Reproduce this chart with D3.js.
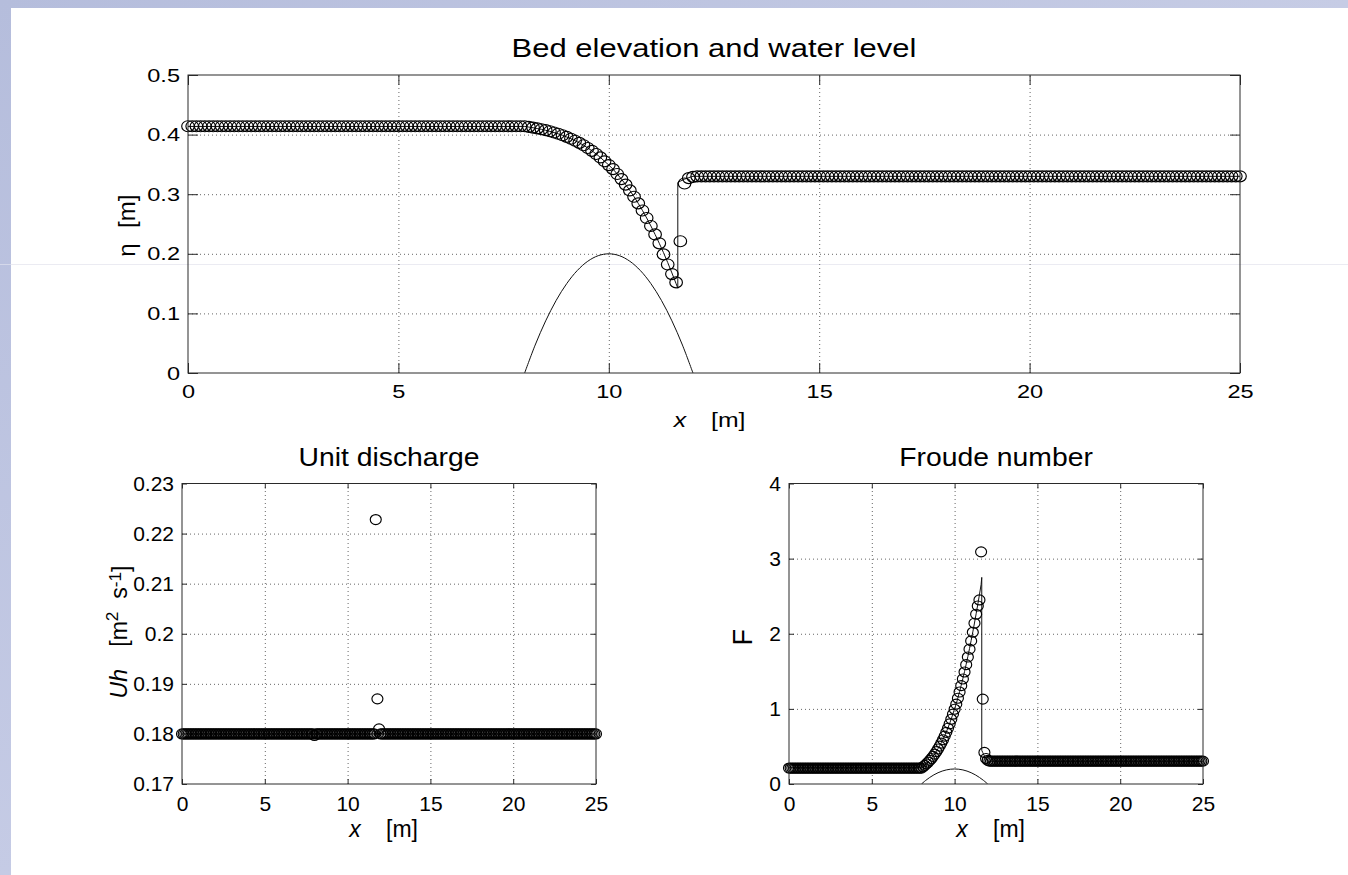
<!DOCTYPE html>
<html>
<head>
<meta charset="utf-8">
<script src="https://cdn.jsdelivr.net/npm/d3@7"></script>
<style>
  html, body { margin: 0; padding: 0; background: #fff; }
  svg { display: block; }
  text { font-family: "Liberation Sans", Arial, Helvetica, sans-serif; fill: #000; }
</style>
</head>
<body>
<svg id="fig" width="1348" height="875"></svg>
<script>
// ---- data ---------------------------------------------------------------
// computational grid, x in metres (dx = 0.1 m, 0 ... 25)
const xGrid = d3.range(0, 251).map(i => i / 10);

// free-surface elevation eta [m] at every grid node (numerical solution)
const etaNum = [
  0.414,0.414,0.414,0.414,0.414,0.414,0.414,0.414,0.414,0.414, // 0.0-0.9
  0.414,0.414,0.414,0.414,0.414,0.414,0.414,0.414,0.414,0.414, // 1
  0.414,0.414,0.414,0.414,0.414,0.414,0.414,0.414,0.414,0.414, // 2
  0.414,0.414,0.414,0.414,0.414,0.414,0.414,0.414,0.414,0.414, // 3
  0.414,0.414,0.414,0.414,0.414,0.414,0.414,0.414,0.414,0.414, // 4
  0.414,0.414,0.414,0.414,0.414,0.414,0.414,0.414,0.414,0.414, // 5
  0.414,0.414,0.414,0.414,0.414,0.414,0.414,0.414,0.414,0.414, // 6
  0.414,0.414,0.414,0.414,0.414,0.414,0.414,0.414,0.414,0.414, // 7
  0.414,0.413,0.4118,0.4105,0.409,0.4074,0.4056,0.4036,0.4014,0.3989, // 8
  0.3962,0.3931,0.3897,0.3861,0.3821,0.3776,0.3728,0.3675,0.3617,0.3552, // 9
  0.3489,0.3420,0.3339,0.3253,0.3161,0.3063,0.2958,0.2846,0.2727,0.2601, // 10
  0.2467,0.2325,0.2176,0.199,0.182,0.166,0.152,0.221,0.318,0.327, // 11
  0.329,0.33,0.33,0.33,0.33,0.33,0.33,0.33,0.33,0.33, // 12
  0.33,0.33,0.33,0.33,0.33,0.33,0.33,0.33,0.33,0.33, // 13
  0.33,0.33,0.33,0.33,0.33,0.33,0.33,0.33,0.33,0.33, // 14
  0.33,0.33,0.33,0.33,0.33,0.33,0.33,0.33,0.33,0.33, // 15
  0.33,0.33,0.33,0.33,0.33,0.33,0.33,0.33,0.33,0.33, // 16
  0.33,0.33,0.33,0.33,0.33,0.33,0.33,0.33,0.33,0.33, // 17
  0.33,0.33,0.33,0.33,0.33,0.33,0.33,0.33,0.33,0.33, // 18
  0.33,0.33,0.33,0.33,0.33,0.33,0.33,0.33,0.33,0.33, // 19
  0.33,0.33,0.33,0.33,0.33,0.33,0.33,0.33,0.33,0.33, // 20
  0.33,0.33,0.33,0.33,0.33,0.33,0.33,0.33,0.33,0.33, // 21
  0.33,0.33,0.33,0.33,0.33,0.33,0.33,0.33,0.33,0.33, // 22
  0.33,0.33,0.33,0.33,0.33,0.33,0.33,0.33,0.33,0.33, // 23
  0.33,0.33,0.33,0.33,0.33,0.33,0.33,0.33,0.33,0.33, // 24
  0.33                                                  // 25.0
];

// unit discharge Uh [m^2/s] at every grid node
const qNum = [
  0.18,0.18,0.18,0.18,0.18,0.18,0.18,0.18,0.18,0.18, // 0
  0.18,0.18,0.18,0.18,0.18,0.18,0.18,0.18,0.18,0.18, // 1
  0.18,0.18,0.18,0.18,0.18,0.18,0.18,0.18,0.18,0.18, // 2
  0.18,0.18,0.18,0.18,0.18,0.18,0.18,0.18,0.18,0.18, // 3
  0.18,0.18,0.18,0.18,0.18,0.18,0.18,0.18,0.18,0.18, // 4
  0.18,0.18,0.18,0.18,0.18,0.18,0.18,0.18,0.18,0.18, // 5
  0.18,0.18,0.18,0.18,0.18,0.18,0.18,0.18,0.18,0.18, // 6
  0.18,0.18,0.18,0.18,0.18,0.18,0.18,0.18,0.18,0.18, // 7
  0.1797,0.18,0.18,0.18,0.18,0.18,0.18,0.18,0.18,0.18, // 8
  0.18,0.18,0.18,0.18,0.18,0.18,0.18,0.18,0.18,0.18, // 9
  0.18,0.18,0.18,0.18,0.18,0.18,0.18,0.18,0.18,0.18, // 10
  0.18,0.18,0.18,0.18,0.18,0.18,0.18,0.2228,0.187,0.181, // 11
  0.18,0.18,0.18,0.18,0.18,0.18,0.18,0.18,0.18,0.18, // 12
  0.18,0.18,0.18,0.18,0.18,0.18,0.18,0.18,0.18,0.18, // 13
  0.18,0.18,0.18,0.18,0.18,0.18,0.18,0.18,0.18,0.18, // 14
  0.18,0.18,0.18,0.18,0.18,0.18,0.18,0.18,0.18,0.18, // 15
  0.18,0.18,0.18,0.18,0.18,0.18,0.18,0.18,0.18,0.18, // 16
  0.18,0.18,0.18,0.18,0.18,0.18,0.18,0.18,0.18,0.18, // 17
  0.18,0.18,0.18,0.18,0.18,0.18,0.18,0.18,0.18,0.18, // 18
  0.18,0.18,0.18,0.18,0.18,0.18,0.18,0.18,0.18,0.18, // 19
  0.18,0.18,0.18,0.18,0.18,0.18,0.18,0.18,0.18,0.18, // 20
  0.18,0.18,0.18,0.18,0.18,0.18,0.18,0.18,0.18,0.18, // 21
  0.18,0.18,0.18,0.18,0.18,0.18,0.18,0.18,0.18,0.18, // 22
  0.18,0.18,0.18,0.18,0.18,0.18,0.18,0.18,0.18,0.18, // 23
  0.18,0.18,0.18,0.18,0.18,0.18,0.18,0.18,0.18,0.18, // 24
  0.18                                                // 25.0
];

// Froude number F at every grid node
const froudeNum = [
  0.212,0.212,0.212,0.212,0.212,0.212,0.212,0.212,0.212,0.212, // 0
  0.212,0.212,0.212,0.212,0.212,0.212,0.212,0.212,0.212,0.212, // 1
  0.212,0.212,0.212,0.212,0.212,0.212,0.212,0.212,0.212,0.212, // 2
  0.212,0.212,0.212,0.212,0.212,0.212,0.212,0.212,0.212,0.212, // 3
  0.212,0.212,0.212,0.212,0.212,0.212,0.212,0.212,0.212,0.212, // 4
  0.212,0.212,0.212,0.212,0.212,0.212,0.212,0.212,0.212,0.212, // 5
  0.212,0.212,0.212,0.212,0.212,0.212,0.212,0.212,0.212,0.212, // 6
  0.212,0.212,0.212,0.212,0.212,0.212,0.212,0.212,0.212,0.212, // 7
  0.212,0.229,0.248,0.268,0.29,0.314,0.34,0.368,0.398,0.431,  // 8
  0.466,0.504,0.545,0.589,0.637,0.688,0.742,0.8,0.862,0.93,   // 9
  0.995,1.063,1.142,1.224,1.309,1.398,1.491,1.589,1.69,1.795, // 10
  1.905,2.02,2.14,2.26,2.37,2.45,3.09,1.13,0.42,0.34,        // 11
  0.315,0.305,0.305,0.305,0.305,0.305,0.305,0.305,0.305,0.305, // 12
  0.305,0.305,0.305,0.305,0.305,0.305,0.305,0.305,0.305,0.305, // 13
  0.305,0.305,0.305,0.305,0.305,0.305,0.305,0.305,0.305,0.305, // 14
  0.305,0.305,0.305,0.305,0.305,0.305,0.305,0.305,0.305,0.305, // 15
  0.305,0.305,0.305,0.305,0.305,0.305,0.305,0.305,0.305,0.305, // 16
  0.305,0.305,0.305,0.305,0.305,0.305,0.305,0.305,0.305,0.305, // 17
  0.305,0.305,0.305,0.305,0.305,0.305,0.305,0.305,0.305,0.305, // 18
  0.305,0.305,0.305,0.305,0.305,0.305,0.305,0.305,0.305,0.305, // 19
  0.305,0.305,0.305,0.305,0.305,0.305,0.305,0.305,0.305,0.305, // 20
  0.305,0.305,0.305,0.305,0.305,0.305,0.305,0.305,0.305,0.305, // 21
  0.305,0.305,0.305,0.305,0.305,0.305,0.305,0.305,0.305,0.305, // 22
  0.305,0.305,0.305,0.305,0.305,0.305,0.305,0.305,0.305,0.305, // 23
  0.305,0.305,0.305,0.305,0.305,0.305,0.305,0.305,0.305,0.305, // 24
  0.305                                                          // 25.0
];

// analytical solution (solid line): x, surface elevation, Froude number
const exactX = [0, 8, 8.1, 8.2, 8.3, 8.4, 8.5, 8.6, 8.7, 8.8, 8.9,
  9, 9.1, 9.2, 9.3, 9.4, 9.5, 9.6, 9.7, 9.8, 9.9,
  10, 10.1, 10.2, 10.3, 10.4, 10.5, 10.6, 10.7, 10.8, 10.9,
  11, 11.1, 11.2, 11.3, 11.4, 11.5, 11.6, 11.64, 11.64, 11.7, 11.8, 11.9, 12, 25];
const exactEta = [0.4137, 0.4137, 0.4126, 0.4115, 0.4102, 0.4088, 0.4072, 0.4054, 0.4034, 0.4012, 0.3988,
  0.3960, 0.3931, 0.3897, 0.3861, 0.3821, 0.3776, 0.3728, 0.3675, 0.3617, 0.3552,
  0.3489, 0.3420, 0.3339, 0.3253, 0.3161, 0.3063, 0.2958, 0.2846, 0.2727, 0.2601,
  0.2467, 0.2325, 0.2176, 0.2019, 0.1853, 0.1679, 0.1497, 0.1422, 0.3196, 0.3219, 0.3252, 0.3278, 0.33, 0.33];
const exactF = [0.216, 0.216, 0.2331, 0.2518, 0.2720, 0.2941, 0.3180, 0.3439, 0.3720, 0.4024, 0.4354,
  0.4709, 0.5090, 0.5504, 0.5946, 0.6423, 0.6932, 0.7475, 0.8055, 0.8677, 0.9354,
  1.0004, 1.0682, 1.1473, 1.2293, 1.3145, 1.4037, 1.4970, 1.5946, 1.6962, 1.8016,
  1.9112, 2.0250, 2.1428, 2.2653, 2.3906, 2.5206, 2.6545, 2.75, 0.449, 0.418, 0.3735, 0.3357, 0.3032, 0.3032];
const exactQX = [0, 25];
const exactQ = [0.18, 0.18];

// bed elevation z_b [m]: bump between x = 8 and 12 m (zero elsewhere)
const bedX = [8, 8.25, 8.5, 8.75, 9, 9.25, 9.5, 9.75, 10, 10.25, 10.5, 10.75, 11, 11.25, 11.5, 11.75, 12];
const bedZ = [0, 0.0469, 0.0875, 0.1219, 0.15, 0.1719, 0.1875, 0.1969, 0.2, 0.1969, 0.1875, 0.1719, 0.15, 0.1219, 0.0875, 0.0469, 0];

// axis ticks
const xTicks = [0, 5, 10, 15, 20, 25];
const etaTicks = [0, 0.1, 0.2, 0.3, 0.4, 0.5];
const qTicks = [0.17, 0.18, 0.19, 0.2, 0.21, 0.22, 0.23];
const fTicks = [0, 1, 2, 3, 4];

// ---- drawing ------------------------------------------------------------
const svg = d3.select('#fig');
const W = 1348, H = 875;
const FONT = '"Liberation Sans", Arial, Helvetica, sans-serif';
const defs = svg.append('defs');
const gTop = defs.append('linearGradient').attr('id', 'bandTop').attr('x1', 0).attr('x2', 1).attr('y1', 0).attr('y2', 0);
gTop.append('stop').attr('offset', 0).attr('stop-color', '#b5bddc');
gTop.append('stop').attr('offset', 1).attr('stop-color', '#c6cce5');
const gLeft = defs.append('linearGradient').attr('id', 'bandLeft').attr('x1', 0).attr('x2', 0).attr('y1', 0).attr('y2', 1);
gLeft.append('stop').attr('offset', 0).attr('stop-color', '#b5bddc');
gLeft.append('stop').attr('offset', 1).attr('stop-color', '#c5cbe5');

svg.append('rect').attr('width', W).attr('height', H).attr('fill', '#fff');
svg.append('rect').attr('x', 0).attr('y', 0).attr('width', W).attr('height', 8).attr('fill', 'url(#bandTop)');
svg.append('rect').attr('x', 0).attr('y', 0).attr('width', 11).attr('height', H).attr('fill', 'url(#bandLeft)');
svg.append('line').attr('x1', 11).attr('x2', W).attr('y1', 264.5).attr('y2', 264.5)
  .attr('stroke', '#ebebf2').attr('stroke-width', 1);
svg.append('line').attr('x1', 0).attr('x2', 11).attr('y1', 264.5).attr('y2', 264.5)
  .attr('stroke', '#d4d8ea').attr('stroke-width', 1);

function stretchText(sel, sx, padX) {
  sel.selectAll('text').each(function () {
    const t = d3.select(this);
    if (padX !== undefined) t.attr('x', padX / sx);
    t.attr('transform', `scale(${sx},1)`);
  });
}

function panel(o) {
  const x = d3.scaleLinear().domain([0, 25]).range([o.l, o.r]);
  const y = d3.scaleLinear().domain(o.yDomain).range([o.b, o.t]);
  const g = svg.append('g');
  const w = o.r - o.l, h = o.b - o.t;
  const cx = (o.l + o.r) / 2, cy = (o.t + o.b) / 2;

  // dotted grid
  const grid = g.append('g');
  grid.append('g').attr('transform', `translate(0,${o.b})`)
    .call(d3.axisBottom(x).tickValues(xTicks.slice(1, -1)).tickSize(-h).tickFormat(''));
  grid.append('g').attr('transform', `translate(${o.l},0)`)
    .call(d3.axisLeft(y).tickValues(o.yTicks.slice(1, -1)).tickSize(-w).tickFormat(''));
  grid.selectAll('.domain').remove();
  grid.selectAll('line').attr('stroke', '#666').attr('stroke-width', 1).attr('stroke-dasharray', '1,3');

  const cid = 'clip' + o.id;
  defs.append('clipPath').attr('id', cid).append('rect')
    .attr('x', o.l - 9).attr('y', o.t).attr('width', w + 18).attr('height', h);
  const data = g.append('g').attr('clip-path', `url(#${cid})`);

  (o.lines || []).forEach(L => {
    const pts = L.xs.map((xv, i) => [xv, L.ys[i]]);
    const lg = d3.line().x(d => x(d[0])).y(d => y(d[1]));
    if (L.curve) lg.curve(L.curve);
    data.append('path').attr('d', lg(pts)).attr('fill', 'none')
      .attr('stroke', '#111').attr('stroke-width', 1);
  });

  const pts = xGrid.map((xv, i) => [xv, o.values[i]]);
  data.append('g').selectAll('ellipse').data(pts).join('ellipse')
    .attr('cx', d => x(d[0])).attr('cy', d => y(d[1]))
    .attr('rx', o.rx).attr('ry', o.ry)
    .attr('fill', 'none').attr('stroke', '#000').attr('stroke-width', 1.15);

  // axes box
  g.append('rect').attr('x', o.l).attr('y', o.t).attr('width', w).attr('height', h)
    .attr('fill', 'none').attr('stroke', '#2a2a2a').attr('stroke-width', 1);

  // inward ticks on all four sides
  const tl = o.tickLen;
  const axB = g.append('g').attr('transform', `translate(0,${o.b})`)
    .call(d3.axisBottom(x).tickValues(xTicks).tickSize(-tl).tickPadding(o.xPad).tickFormat(d3.format('d')));
  const axL = g.append('g').attr('transform', `translate(${o.l},0)`)
    .call(d3.axisLeft(y).tickValues(o.yTicks).tickSize(-tl).tickPadding(8).tickFormat(o.yFmt));
  const axT = g.append('g').attr('transform', `translate(0,${o.t})`)
    .call(d3.axisTop(x).tickValues(xTicks).tickSize(-tl).tickFormat(''));
  const axR = g.append('g').attr('transform', `translate(${o.r},0)`)
    .call(d3.axisRight(y).tickValues(o.yTicks).tickSize(-tl).tickFormat(''));
  [axB, axL, axT, axR].forEach(a => {
    a.select('.domain').remove();
    a.selectAll('line').attr('stroke', '#2a2a2a');
    a.selectAll('text').attr('font-size', o.tickFont).attr('fill', '#000').attr('font-family', FONT);
  });
  stretchText(axB, o.sx);
  stretchText(axL, o.sx, -8);

  // title
  g.append('text').attr('text-anchor', 'middle').attr('font-size', o.titleFont)
    .attr('transform', `translate(${cx},${o.titleY}) scale(${o.titleSx},1)`)
    .text(o.title);

  // x label: italic x, then the unit
  const xb = o.b + o.xLabelDy;
  g.append('text').attr('text-anchor', 'middle').attr('font-size', o.labelFont)
    .attr('font-style', 'italic')
    .attr('transform', `translate(${cx - 34},${xb}) scale(${o.sx},1)`).text('x');
  g.append('text').attr('text-anchor', 'start').attr('font-size', o.labelFont)
    .attr('transform', `translate(${cx - 3},${xb}) scale(${o.sx},1)`).text('[m]');

  // y label (rotated)
  const yg = g.append('g').attr('transform', `translate(${o.yLabelX},${cy}) rotate(-90)`);
  o.yLabel(yg);
}

// top: bed elevation and water level
panel({
  id: 'eta', l: 188, r: 1240, t: 75, b: 373,
  yDomain: [0, 0.5], yTicks: etaTicks,
  yFmt: d => d === 0 ? '0' : d.toFixed(1),
  values: etaNum, rx: 6.3, ry: 5.5,
  lines: [
    { xs: bedX, ys: bedZ, curve: d3.curveCatmullRom },
    { xs: exactX, ys: exactEta }
  ],
  tickLen: 10, tickFont: 19, titleFont: 25, titleSx: 1.24, labelFont: 20, sx: 1.24, xPad: 11.5,
  title: 'Bed elevation and water level', titleY: 56.5, xLabelDy: 54,
  yLabelX: 135,
  yLabel: gl => {
    gl.append('text').attr('text-anchor', 'middle').attr('font-size', 24).attr('x', -26).text('η');
    gl.append('text').attr('text-anchor', 'start').attr('font-size', 24).attr('x', -4).text('[m]');
  }
});

// bottom left: unit discharge
panel({
  id: 'q', l: 182, r: 596, t: 483.5, b: 784,
  yDomain: [0.17, 0.23], yTicks: qTicks,
  yFmt: d => String(+d.toFixed(2)),
  values: qNum, rx: 5.5, ry: 5.0,
  lines: [{ xs: exactQX, ys: exactQ }],
  tickLen: 5, tickFont: 21, titleFont: 26, titleSx: 1.09, labelFont: 23, sx: 1.0, xPad: 12,
  title: 'Unit discharge', titleY: 466, xLabelDy: 53,
  yLabelX: 127,
  yLabel: gl => {
    gl.append('text').attr('text-anchor', 'middle').attr('font-size', 23)
      .attr('font-style', 'italic').attr('x', -50).text('Uh');
    const t = gl.append('text').attr('text-anchor', 'start').attr('font-size', 23)
      .attr('x', -13).attr('xml:space', 'preserve');
    t.append('tspan').text('[m');
    t.append('tspan').attr('font-size', '75%').attr('dy', '-0.5em').text('2');
    t.append('tspan').attr('dy', '0.375em').text('  s');
    t.append('tspan').attr('font-size', '75%').attr('dy', '-0.375em').text('-1');
    t.append('tspan').attr('dy', '0.375em').text(']');
  }
});

// bottom right: Froude number
panel({
  id: 'fr', l: 789, r: 1203, t: 483.5, b: 784,
  yDomain: [0, 4], yTicks: fTicks,
  yFmt: d3.format('d'),
  values: froudeNum, rx: 5.5, ry: 5.0,
  lines: [
    { xs: bedX, ys: bedZ, curve: d3.curveCatmullRom },
    { xs: exactX, ys: exactF }
  ],
  tickLen: 5, tickFont: 21, titleFont: 26, titleSx: 1.09, labelFont: 23, sx: 1.0, xPad: 12,
  title: 'Froude number', titleY: 466, xLabelDy: 53,
  yLabelX: 752,
  yLabel: gl => {
    gl.append('text').attr('text-anchor', 'middle').attr('font-size', 27).attr('x', -3.5).text('F');
  }
});
</script>
</body>
</html>
